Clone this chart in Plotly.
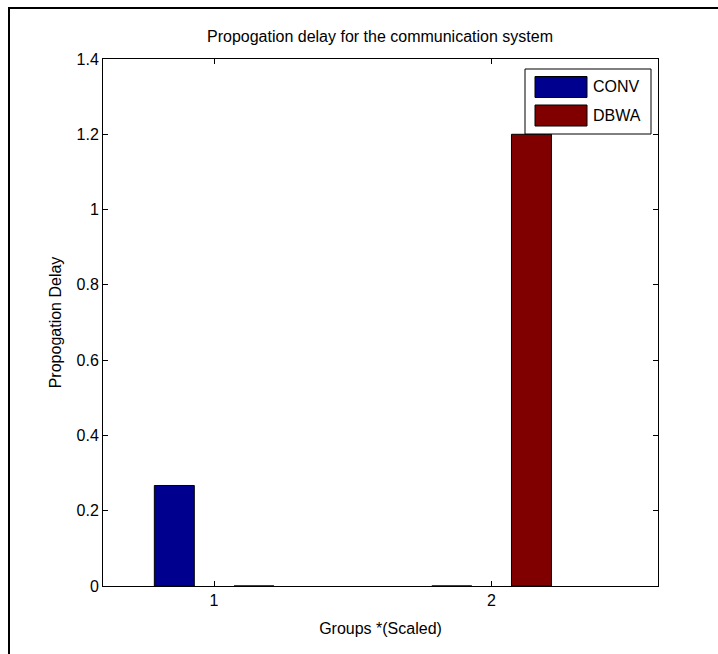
import plotly.graph_objects as go

# Data
groups = [1, 2]
series_names = ["CONV", "DBWA"]
conv_values = [0.267, 0.0]
dbwa_values = [0.0, 1.2]
series_colors = ["#00008f", "#800000"]
ytick_vals = [0, 0.2, 0.4, 0.6, 0.8, 1, 1.2, 1.4]
ytick_text = ["0", "0.2", "0.4", "0.6", "0.8", "1", "1.2", "1.4"]

W, H = 718, 654
ML, MR, MT, MB = 103, 60, 59, 68
PW, PH = W - ML - MR, H - MT - MB

FONT = "Liberation Sans, Arial, sans-serif"


def px_x(px):
    return (px - ML) / PW


def px_y(py):
    return (H - MB - py) / PH


bar_width = 0.144
offsets = [-0.215, 0.072]

fig = go.Figure()
for name, vals, col, off in zip(series_names, [conv_values, dbwa_values], series_colors, offsets):
    fig.add_trace(go.Bar(
        x=groups, y=vals, name=name, width=bar_width, offset=off,
        marker=dict(color=col, line=dict(color="#000000", width=1)),
        showlegend=False,
    ))

# Framed legend with wide swatches
shapes = [
    dict(type="rect", xref="paper", yref="paper",
         x0=px_x(525), x1=px_x(651), y0=px_y(134), y1=px_y(69),
         line=dict(color="#000000", width=1), fillcolor="#ffffff", layer="above"),
]
annotations = []
for i, (name, col) in enumerate(zip(series_names, series_colors)):
    top = 76.5 + i * 28.5
    shapes.append(dict(type="rect", xref="paper", yref="paper",
                       x0=px_x(535), x1=px_x(587), y0=px_y(top + 21), y1=px_y(top),
                       line=dict(color="#000000", width=1), fillcolor=col, layer="above"))
    annotations.append(dict(xref="paper", yref="paper", x=px_x(591), y=px_y(top + 10.5),
                            text=name, showarrow=False, xanchor="left", yanchor="middle",
                            font=dict(family=FONT, size=16, color="#000000")))

# Figure frame edges (left and top)
shapes.append(dict(type="line", xref="paper", yref="paper",
                   x0=px_x(9), x1=px_x(9), y0=px_y(654), y1=px_y(8),
                   line=dict(color="#000000", width=2)))
shapes.append(dict(type="line", xref="paper", yref="paper",
                   x0=px_x(8), x1=px_x(718), y0=px_y(8), y1=px_y(8),
                   line=dict(color="#000000", width=2)))

axis_common = dict(
    showline=True, linecolor="#000000", linewidth=1, mirror="allticks",
    ticks="inside", ticklen=5, tickcolor="#000000", tickwidth=1,
    showgrid=False, zeroline=False,
    tickfont=dict(family=FONT, size=16, color="#000000"),
)

fig.update_layout(
    width=W, height=H,
    margin=dict(l=ML, r=MR, t=MT, b=MB),
    paper_bgcolor="#ffffff", plot_bgcolor="#ffffff",
    barmode="overlay",
    title=dict(text="Propogation delay for the communication system",
               x=380 / W, xanchor="center",
               y=1 - 36 / H, yanchor="middle", yref="container",
               font=dict(family=FONT, size=16, color="#000000")),
    xaxis=dict(range=[0.6, 2.6], tickvals=groups, ticktext=[str(g) for g in groups],
               title=dict(text="Groups *(Scaled)", standoff=14,
                          font=dict(family=FONT, size=16, color="#000000")),
               **axis_common),
    yaxis=dict(range=[0, 1.4], tickvals=ytick_vals, ticktext=ytick_text,
               title=dict(text="Propogation Delay", standoff=10,
                          font=dict(family=FONT, size=16, color="#000000")),
               **axis_common),
    shapes=shapes,
    annotations=annotations,
)

fig.write_html("out.html")
